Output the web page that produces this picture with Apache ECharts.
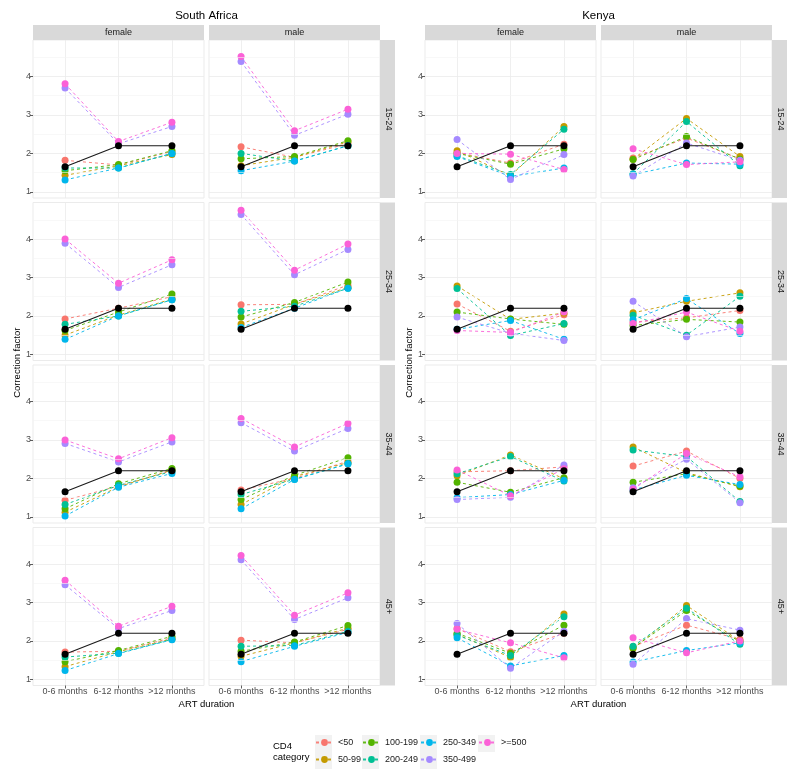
<!DOCTYPE html>
<html><head><meta charset="utf-8">
<script src="https://cdn.jsdelivr.net/npm/echarts@6/dist/echarts.min.js"></script>
<style>html,body{margin:0;padding:0;background:#fff}#c{width:800px;height:778px}</style>
</head><body><div id="c"></div>
<script>
// ---------------- DATA ----------------
const categories = ['0-6 months', '6-12 months', '>12 months'];
const cd4Levels = ['<50', '50-99', '100-199', '200-249', '250-349', '350-499', '>=500'];
const cd4Colors = ['#F8766D', '#C49A00', '#53B400', '#00C094', '#00B6EB', '#A58AFF', '#FB61D7'];
const countries = ['South Africa', 'Kenya'];
const sexes = ['female', 'male'];
const ageGroups = ['15-24', '25-34', '35-44', '45+'];
const reference = [1.65, 2.2, 2.2];
const yTicks = [1, 2, 3, 4];
const yMinorTicks = [1.5, 2.5, 3.5, 4.5];

// rows follow cd4Levels, columns follow categories
const SA_female_15_24 = [[1.82,1.70,2.05],[1.43,1.68,1.97],[1.55,1.71,2.07],[1.62,1.62,2.00],[1.31,1.62,2.00],[3.70,2.25,2.70],[3.81,2.31,2.81]];
const SA_male_15_24   = [[2.17,1.90,2.25],[1.68,1.90,2.30],[1.86,1.92,2.33],[2.00,1.80,2.20],[1.55,1.80,2.20],[4.39,2.47,3.02],[4.52,2.59,3.15]];
const KE_female_15_24 = [[2.02,1.75,2.24],[2.07,1.42,2.70],[2.00,1.72,2.12],[1.94,1.45,2.63],[1.92,1.40,1.62],[2.36,1.32,1.97],[2.00,1.98,1.58]];
const KE_male_15_24   = [[1.88,2.40,1.86],[1.85,2.91,1.92],[1.84,2.44,1.85],[1.47,2.83,1.68],[1.45,1.75,1.72],[1.41,2.27,1.82],[2.12,1.71,1.78]];

const SA_female_25_34 = [[1.92,2.20,2.50],[1.50,2.02,2.44],[1.62,2.10,2.57],[1.78,2.00,2.42],[1.39,2.00,2.42],[3.89,2.74,3.33],[4.00,2.85,3.46]];
const SA_male_25_34   = [[2.29,2.30,2.80],[1.79,2.30,2.74],[1.97,2.35,2.88],[2.12,2.25,2.72],[1.70,2.20,2.72],[4.64,3.07,3.73],[4.75,3.19,3.87]];
const KE_female_25_34 = [[2.31,1.60,2.03],[2.78,1.91,2.07],[2.10,1.92,1.78],[2.71,1.49,1.80],[1.65,1.88,1.39],[1.97,1.55,1.36],[1.62,1.57,2.10]];
const KE_male_25_34   = [[1.84,1.95,2.14],[2.08,2.38,2.60],[1.75,1.91,1.84],[2.02,1.50,2.51],[1.90,2.45,1.54],[2.38,1.46,1.71],[1.80,2.10,1.60]];

const SA_female_35_44 = [[1.43,1.80,2.20],[1.12,1.78,2.22],[1.21,1.86,2.26],[1.32,1.82,2.18],[1.02,1.77,2.13],[2.91,2.43,2.95],[3.00,2.51,3.06]];
const SA_male_35_44   = [[1.70,2.00,2.45],[1.32,2.05,2.41],[1.45,2.08,2.54],[1.58,1.98,2.38],[1.21,1.97,2.38],[3.45,2.71,3.30],[3.56,2.82,3.43]];
const KE_female_35_44 = [[2.17,2.20,2.30],[2.07,2.61,1.99],[1.90,1.64,2.02],[2.12,2.57,1.93],[1.50,1.58,1.95],[1.45,1.51,2.35],[2.22,1.55,2.25]];
const KE_male_35_44   = [[2.32,2.71,2.00],[2.82,2.15,1.78],[1.90,2.12,1.80],[2.74,2.57,1.40],[1.70,2.08,1.84],[1.76,2.50,1.37],[1.72,2.65,2.04]];

const SA_female_45p = [[1.71,1.73,2.08],[1.33,1.72,2.05],[1.46,1.75,2.12],[1.58,1.68,2.04],[1.23,1.67,2.03],[3.46,2.32,2.79],[3.58,2.38,2.90]];
const SA_male_45p   = [[2.02,1.95,2.30],[1.60,1.95,2.33],[1.73,1.97,2.40],[1.86,1.88,2.25],[1.46,1.86,2.22],[4.11,2.56,3.12],[4.22,2.67,3.25]];
const KE_female_45p = [[2.32,1.72,2.20],[2.17,1.57,2.70],[2.20,1.68,2.41],[2.15,1.62,2.63],[2.08,1.35,1.62],[2.45,1.29,2.25],[2.30,1.95,1.56]];
const KE_male_45p   = [[1.85,2.41,2.04],[1.80,2.92,2.00],[1.82,2.79,1.98],[1.86,2.85,1.91],[1.45,1.75,1.95],[1.39,2.58,2.28],[2.08,1.69,2.00]];

const panelArrays = {
  'South Africa': {
    female: [SA_female_15_24, SA_female_25_34, SA_female_35_44, SA_female_45p],
    male:   [SA_male_15_24,   SA_male_25_34,   SA_male_35_44,   SA_male_45p]
  },
  'Kenya': {
    female: [KE_female_15_24, KE_female_25_34, KE_female_35_44, KE_female_45p],
    male:   [KE_male_15_24,   KE_male_25_34,   KE_male_35_44,   KE_male_45p]
  }
};

// ---------------- LAYOUT ----------------
const FONT = '"Liberation Sans", Arial, Helvetica, sans-serif';
const colLefts = [33, 209, 425, 601];
const panelW = 171, panelH = 158;
const rowTops = [40, 202.5, 365, 527.5];
const stripTop = 25, stripH = 15, stripW = 15;
const yMin = 0.84, yMax = 4.95;
const xMin = 0.4, xMax = 3.6;

const chart = echarts.init(document.getElementById('c'), null, {renderer: 'canvas'});
const grids = [], xAxes = [], yAxes = [], series = [], graphics = [];
let gi = 0;

countries.forEach((country, ci) => {
  sexes.forEach((sex, si) => {
    const col = ci * 2 + si;
    ageGroups.forEach((age, ai) => {
      const isBottom = ai === ageGroups.length - 1;
      const isLeft = si === 0;
      grids.push({left: colLefts[col], top: rowTops[ai], width: panelW, height: panelH,
        show: true, backgroundColor: '#ffffff', borderColor: '#ebebeb', borderWidth: 1});
      xAxes.push({
        gridIndex: gi, type: 'value', min: xMin, max: xMax, splitNumber: 3,
        axisLine: {show: false},
        axisTick: {show: isBottom, length: 3, customValues: [1, 2, 3], lineStyle: {color: '#333', width: 0.8}},
        axisLabel: {show: isBottom, margin: 2, fontSize: 9, color: '#4d4d4d', fontFamily: FONT,
          customValues: [1, 2, 3], formatter: v => categories[Math.round(v) - 1] || ''},
        splitLine: {show: true, lineStyle: {color: '#ebebeb', width: 0.8}}
      });
      yAxes.push({
        gridIndex: gi, type: 'value', min: yMin, max: yMax, splitNumber: 4,
        axisLine: {show: false},
        axisTick: {show: isLeft, length: 3, customValues: yTicks, lineStyle: {color: '#333', width: 0.8}},
        axisLabel: {show: isLeft, margin: 2, fontSize: 9, color: '#4d4d4d', fontFamily: FONT,
          customValues: yTicks, formatter: v => String(Math.round(v))},
        splitLine: {show: true, lineStyle: {color: '#ebebeb', width: 0.8}}
      });
      // minor grid
      series.push({type: 'line', xAxisIndex: gi, yAxisIndex: gi, data: [], silent: true, z: 1,
        markLine: {silent: true, symbol: ['none', 'none'], animation: false, label: {show: false},
          lineStyle: {color: '#f4f4f4', width: 0.6, type: 'solid'},
          data: yMinorTicks.map(v => ({yAxis: v}))}});
      const arr = panelArrays[country][sex][ai];
      cd4Levels.forEach((lvl, k) => {
        series.push({
          type: 'line', name: lvl, xAxisIndex: gi, yAxisIndex: gi, z: 2,
          data: arr[k].map((v, j) => [j + 1, v]),
          symbol: 'circle', symbolSize: 7, showSymbol: true,
          lineStyle: {color: cd4Colors[k], width: 1, type: [3, 3], opacity: 0.9},
          itemStyle: {color: cd4Colors[k]},
          emphasis: {disabled: true}, animation: false
        });
      });
      series.push({
        type: 'line', name: 'reference', xAxisIndex: gi, yAxisIndex: gi, z: 3,
        data: reference.map((v, j) => [j + 1, v]),
        symbol: 'circle', symbolSize: 7,
        lineStyle: {color: '#1a1a1a', width: 1.1, type: 'solid'},
        itemStyle: {color: '#000'}, emphasis: {disabled: true}, animation: false
      });
      gi++;
    });
    // top strip
    graphics.push({type: 'rect', shape: {x: colLefts[col], y: stripTop, width: panelW, height: stripH},
      style: {fill: '#d9d9d9'}, z: 0});
    graphics.push({type: 'text', x: colLefts[col] + panelW / 2, y: stripTop + stripH / 2 + 0.5, z: 1,
      style: {text: sex, fill: '#1a1a1a', fontSize: 9, fontFamily: FONT, align: 'center', verticalAlign: 'middle'}});
  });
  const leftX = colLefts[ci * 2];
  const rightX = colLefts[ci * 2 + 1] + panelW;
  const cx = (leftX + rightX) / 2;
  // right strips
  ageGroups.forEach((age, ai) => {
    graphics.push({type: 'rect', shape: {x: rightX, y: rowTops[ai], width: stripW, height: panelH},
      style: {fill: '#d9d9d9'}, z: 0});
    graphics.push({type: 'text', x: rightX + stripW / 2 + 0.5, y: rowTops[ai] + panelH / 2, rotation: -Math.PI / 2, z: 1,
      style: {text: age, fill: '#1a1a1a', fontSize: 9, fontFamily: FONT, align: 'center', verticalAlign: 'middle'}});
  });
  // country title
  graphics.push({type: 'text', x: cx, y: 16, z: 1,
    style: {text: country, fill: '#000', fontSize: 11.5, fontFamily: FONT, align: 'center', verticalAlign: 'middle'}});
  // axis titles
  const midY = (rowTops[0] + rowTops[3] + panelH) / 2;
  graphics.push({type: 'text', x: leftX - 16, y: midY, rotation: Math.PI / 2, z: 1,
    style: {text: 'Correction factor', fill: '#000', fontSize: 9.5, fontFamily: FONT, align: 'center', verticalAlign: 'middle'}});
  graphics.push({type: 'text', x: cx, y: 704, z: 1,
    style: {text: 'ART duration', fill: '#000', fontSize: 9.5, fontFamily: FONT, align: 'center', verticalAlign: 'middle'}});
});

// legend
const legendCols = [315, 362, 420, 478];
const legendRows = [743.5, 760.5];
const legends = [];
cd4Levels.forEach((lvl, k) => {
  const c = Math.floor(k / 2), r = k % 2;
  graphics.push({type: 'rect', shape: {x: legendCols[c], y: legendRows[r] - 8.5, width: 17, height: 17},
    style: {fill: '#f2f2f2'}, z: 0});
  legends.push({data: [lvl], left: legendCols[c], top: legendRows[r] - 5.5, padding: 0,
    itemWidth: 17, itemHeight: 8.5, selectedMode: false,
    textStyle: {fontSize: 9, color: '#1a1a1a', fontFamily: FONT}});
});
graphics.push({type: 'text', x: 273, y: 752, z: 1,
  style: {text: 'CD4\ncategory', fill: '#000', fontSize: 9.5, lineHeight: 11, fontFamily: FONT, align: 'left', verticalAlign: 'middle'}});

chart.setOption({
  animation: false,
  backgroundColor: '#ffffff',
  grid: grids, xAxis: xAxes, yAxis: yAxes, series: series,
  legend: legends,
  graphic: graphics
});
</script>
</body></html>
